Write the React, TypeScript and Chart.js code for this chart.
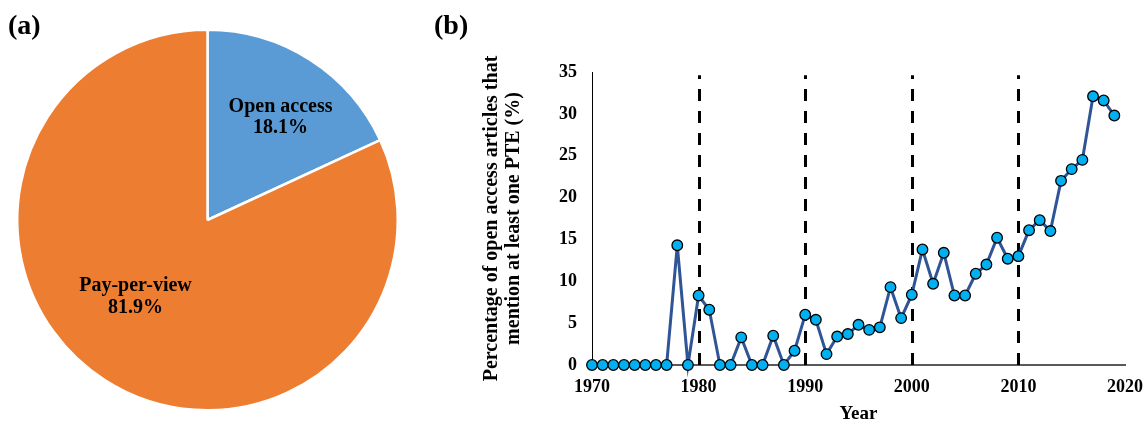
import React, { useEffect, useRef } from "react";
import { Chart, registerables } from "chart.js";

Chart.register(...registerables);

const pieLabels = ["Open access", "Pay-per-view"];
const pieValues = [18.1, 81.9];
const pieColors = ["#5B9BD5", "#ED7D31"];

const years = [
  1970, 1971, 1972, 1973, 1974, 1975, 1976, 1977, 1978, 1979,
  1980, 1981, 1982, 1983, 1984, 1985, 1986, 1987, 1988, 1989,
  1990, 1991, 1992, 1993, 1994, 1995, 1996, 1997, 1998, 1999,
  2000, 2001, 2002, 2003, 2004, 2005, 2006, 2007, 2008, 2009,
  2010, 2011, 2012, 2013, 2014, 2015, 2016, 2017, 2018, 2019,
];
const percentages = [
  0, 0, 0, 0, 0, 0, 0, 0, 14.3, 0,
  8.3, 6.6, 0, 0, 3.3, 0, 0, 3.5, 0, 1.7,
  6.0, 5.4, 1.3, 3.4, 3.7, 4.8, 4.2, 4.5, 9.3, 5.6,
  8.4, 13.8, 9.7, 13.4, 8.3, 8.3, 10.9, 12.0, 15.2, 12.7,
  13.0, 16.1, 17.3, 16.0, 22.0, 23.4, 24.5, 32.1, 31.6, 29.8,
];
const dividerYears = [1980, 1990, 2000, 2010];
const yTitleLines = ["Percentage of open access articles that", "mention at least one PTE (%)"];
const xTitle = "Year";

const SERIF = '"Times New Roman", "Liberation Serif", serif';

const pieLabelPlugin = {
  id: "pieLabelPlugin",
  afterDatasetsDraw(chart: any) {
    const meta = chart.getDatasetMeta(0);
    const place = [
      { frac: 0.663, delta: 2.8 },
      { frac: 0.552, delta: 10.7 },
    ];
    const ctx = chart.ctx;
    ctx.save();
    ctx.font = `bold 20px ${SERIF}`;
    ctx.fillStyle = "#000";
    ctx.textAlign = "center";
    ctx.textBaseline = "middle";
    meta.data.forEach((arc: any, i: number) => {
      const { x, y, startAngle, endAngle, outerRadius } = arc.getProps(
        ["x", "y", "startAngle", "endAngle", "outerRadius"],
        true
      );
      const a = (startAngle + endAngle) / 2 + (place[i].delta * Math.PI) / 180;
      const r = outerRadius * place[i].frac;
      const cx = x + Math.cos(a) * r;
      const cy = y + Math.sin(a) * r;
      const val = chart.data.datasets[0].data[i];
      ctx.fillText(chart.data.labels[i], cx, cy - 10.5);
      ctx.fillText(`${val.toFixed(1)}%`, cx, cy + 11);
    });
    ctx.restore();
  },
};

const dividerPlugin = {
  id: "dividerPlugin",
  beforeDatasetsDraw(chart: any) {
    const { ctx, scales } = chart;
    const xs = scales.x;
    const ys = scales.y;
    ctx.save();
    ctx.strokeStyle = "#000";
    ctx.lineWidth = 3;
    ctx.setLineDash([12, 10]);
    dividerYears.forEach((yr) => {
      const px = Math.round(xs.getPixelForValue(yr)) + 0.5;
      ctx.beginPath();
      ctx.moveTo(px, ys.getPixelForValue(0));
      ctx.lineTo(px, ys.getPixelForValue(34.6));
      ctx.stroke();
    });
    ctx.restore();
  },
};

export default function App() {
  const pieRef = useRef<HTMLCanvasElement | null>(null);
  const lineRef = useRef<HTMLCanvasElement | null>(null);

  useEffect(() => {
    const pie = new Chart(pieRef.current as HTMLCanvasElement, {
      type: "pie",
      data: {
        labels: pieLabels,
        datasets: [
          {
            data: pieValues,
            backgroundColor: pieColors,
            borderColor: "#ffffff",
            borderWidth: 2.5,
          },
        ],
      },
      options: {
        animation: false,
        responsive: false,
        maintainAspectRatio: false,
        layout: { padding: { top: 28, bottom: 9, left: 16, right: 16 } },
        plugins: { legend: { display: false }, tooltip: { enabled: false } },
      },
      plugins: [pieLabelPlugin],
    });

    const line = new Chart(lineRef.current as HTMLCanvasElement, {
      type: "line",
      data: {
        datasets: [
          {
            data: years.map((yr, i) => ({ x: yr, y: percentages[i] })),
            borderColor: "#2F5597",
            borderWidth: 3,
            pointRadius: 5.3,
            pointBackgroundColor: "#00B0F0",
            pointBorderColor: "#000000",
            pointBorderWidth: 1.3,
            tension: 0,
            clip: false as any,
          },
        ],
      },
      options: {
        animation: false,
        responsive: false,
        maintainAspectRatio: false,
        layout: { padding: { top: 72, right: 21, left: 0, bottom: 0 } },
        plugins: { legend: { display: false }, tooltip: { enabled: false } },
        scales: {
          x: {
            type: "linear",
            min: 1970,
            max: 2020,
            afterFit: (s: any) => {
              s.height = 56;
              s.paddingLeft = 0;
              s.paddingRight = 0;
            },
            grid: { display: false, drawTicks: false },
            border: { display: true, color: "#595959", width: 2 },
            ticks: {
              stepSize: 10,
              padding: 12,
              color: "#000",
              font: { family: SERIF, size: 18, weight: "bold" },
              callback: (v: any) => String(v),
            },
            title: {
              display: true,
              text: xTitle,
              color: "#000",
              padding: { top: 0, bottom: -3 },
              font: { family: SERIF, size: 19, weight: "bold", lineHeight: 1 },
            },
          },
          y: {
            min: 0,
            max: 35,
            afterFit: (s: any) => {
              s.width = 162;
              s.paddingTop = 0;
              s.paddingBottom = 0;
            },
            grid: { display: false, drawTicks: false },
            border: { display: true, color: "#000", width: 1 },
            ticks: {
              stepSize: 5,
              padding: 15,
              color: "#000",
              font: { family: SERIF, size: 18, weight: "bold" },
            },
            title: {
              display: true,
              text: yTitleLines,
              color: "#000",
              padding: { top: 51, bottom: 0 },
              font: { family: SERIF, size: 20, weight: "bold", lineHeight: 1.08 },
            },
          },
        },
      },
      plugins: [dividerPlugin],
    });

    return () => {
      pie.destroy();
      line.destroy();
    };
  }, []);

  const panelLabel: React.CSSProperties = {
    position: "absolute",
    top: 11,
    font: `bold 28px ${SERIF}`,
    lineHeight: "28px",
    color: "#000",
  };

  return (
    <div
      style={{
        position: "fixed",
        left: 0,
        top: 0,
        width: 1146,
        height: 421,
        background: "#fff",
        overflow: "hidden",
      }}
    >
      <canvas
        ref={pieRef}
        width={415}
        height={421}
        style={{ position: "absolute", left: 0, top: 0, width: 415, height: 421 }}
      />
      <canvas
        ref={lineRef}
        width={716}
        height={421}
        style={{ position: "absolute", left: 430, top: 0, width: 716, height: 421 }}
      />
      <div style={{ ...panelLabel, left: 8 }}>(a)</div>
      <div style={{ ...panelLabel, left: 434 }}>(b)</div>
    </div>
  );
}
